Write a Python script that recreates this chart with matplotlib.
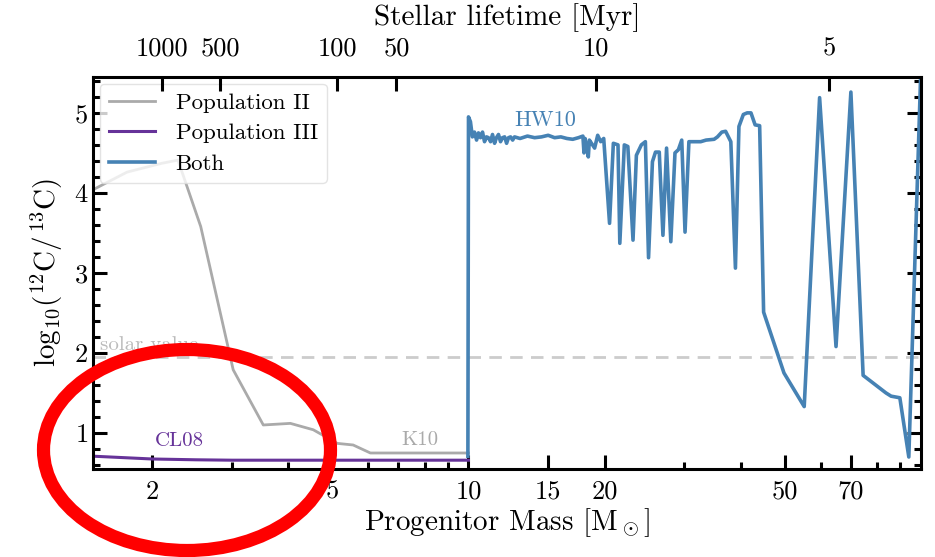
import matplotlib
matplotlib.use("Agg")
import matplotlib.pyplot as plt
from matplotlib.patches import Ellipse
from matplotlib.transforms import IdentityTransform
from matplotlib.ticker import FixedLocator, NullFormatter, NullLocator

plt.rcParams['font.family'] = 'serif'
plt.rcParams['font.serif'] = ['cmr10', 'DejaVu Serif']
plt.rcParams['mathtext.fontset'] = 'cm'
plt.rcParams['axes.unicode_minus'] = False
plt.rcParams['axes.formatter.use_mathtext'] = True

# Population II (K10)
pop2_mass = [1.48, 1.76, 2.10, 2.28, 2.56, 3.02, 3.52, 4.04, 4.54, 5.13, 5.56, 6.07, 10.0]
pop2_val = [4.04, 4.26, 4.37, 4.41, 3.58, 1.79, 1.10, 1.12, 1.04, 0.87, 0.85, 0.75, 0.75]

# Population III (CL08)
pop3_mass = [1.48, 2.0, 2.5, 3.0, 4.0, 5.0, 10.0]
pop3_val = [0.71, 0.675, 0.665, 0.66, 0.66, 0.66, 0.66]

# Both (HW10)
both_mass = [9.97, 10.0, 10.1, 10.2, 10.31, 10.42, 10.52, 10.63, 10.74, 10.85, 10.96, 11.07,
             11.19, 11.3, 11.42, 11.53, 11.65, 11.77, 11.89, 12.02, 12.14, 12.26, 12.39,
             12.52, 12.64, 13.0, 13.5, 14.0, 14.5, 15.0, 15.5, 16.0, 16.5, 17.0, 17.5,
             17.9, 18.0, 18.1, 18.25, 18.4, 18.5, 18.7, 19.0, 19.3, 19.6, 19.9,
             20.5, 20.9, 21.4, 21.6, 22.1, 22.5, 23.1, 23.5, 24.1, 24.6, 25.0, 25.5, 25.9,
             26.4, 26.9, 27.4, 28.0, 28.6, 29.1, 29.6, 30.1, 30.7, 31.5, 32.6, 33.5, 34.9,
             35.5, 36.3, 37.0, 38.0, 38.9, 39.6, 40.5, 41.3, 42.1, 43.0, 44.0, 44.9,
             49.8, 55.2, 59.7, 64.9, 70.0, 74.5, 83.7, 85.9, 89.8, 94.0, 100.0]
both_val = [0.71, 4.95, 4.89, 4.70, 4.76, 4.66, 4.75, 4.69, 4.76, 4.64, 4.70, 4.69,
            4.64, 4.73, 4.62, 4.69, 4.73, 4.64, 4.69, 4.70, 4.62, 4.69, 4.70,
            4.66, 4.70, 4.68, 4.71, 4.69, 4.70, 4.72, 4.69, 4.70, 4.68, 4.67, 4.69,
            4.71, 4.50, 4.68, 4.56, 4.45, 4.66, 4.62, 4.56, 4.72, 4.64, 4.68,
            3.62, 4.62, 4.60, 3.37, 4.60, 4.58, 3.41, 4.47, 4.60, 4.64, 3.19, 4.39, 4.51,
            4.51, 3.47, 4.56, 3.39, 4.50, 4.54, 4.66, 3.51, 4.64, 4.64, 4.64, 4.66, 4.67,
            4.70, 4.76, 4.77, 4.64, 3.06, 4.83, 4.98, 5.00, 5.00, 4.85, 4.84, 2.51,
            1.75, 1.33, 5.19, 2.08, 5.26, 1.72, 1.50, 1.46, 1.44, 0.70, 5.6]

solar_val = 1.95

life_labels = ['1000', '500', '100', '50', '10', '5']
life_mass = [2.10, 2.83, 5.13, 6.93, 19.1, 62.6]

x_major = [2, 5, 10, 15, 20, 50, 70]
x_minor = [3, 4, 6, 7, 8, 9, 30, 40, 60, 80, 90]

c_pop2 = '#aaaaaa'
c_pop3 = '#663399'
c_both = '#4682b4'

fig = plt.figure(figsize=(9.35, 5.57), dpi=100)
ax = fig.add_axes([0.0995, 0.158, 0.8855, 0.704])

ax.axhline(solar_val, color='#cccccc', ls='--', lw=2.0, dashes=(4.5, 3), zorder=1)
ax.plot(pop2_mass, pop2_val, color=c_pop2, lw=2.0, label='Population II')
ax.plot(pop3_mass, pop3_val, color=c_pop3, lw=2.2, label='Population III')
ax.plot(both_mass, both_val, color=c_both, lw=2.6, label='Both')

ax.text(1.53, 2.04, 'solar value', color='#bbbbbb', fontsize=15)
ax.text(2.30, 0.84, 'CL08', color=c_pop3, fontsize=15, ha='center')
ax.text(7.83, 0.85, 'K10', color=c_pop2, fontsize=15, ha='center')
ax.text(14.8, 4.84, 'HW10', color=c_both, fontsize=16, ha='center')

ax.set_xscale('log')
ax.set_xlim(1.48, 100)
ax.set_ylim(0.55, 5.45)
ax.xaxis.set_major_locator(FixedLocator(x_major))
ax.xaxis.set_minor_locator(FixedLocator(x_minor))
ax.set_xticklabels([str(v) for v in x_major])
ax.xaxis.set_minor_formatter(NullFormatter())
ax.set_yticks([1, 2, 3, 4, 5])
ax.yaxis.set_minor_locator(FixedLocator([0.6 + 0.2 * i for i in range(25)]))

ax.tick_params(which='both', direction='in', right=True, top=False, width=2.2, labelsize=19)
ax.tick_params(which='major', length=10)
ax.tick_params(which='minor', length=5)
ax.tick_params(axis='x', which='major', pad=8)
for sp in ax.spines.values():
    sp.set_linewidth(2.2)

ax.set_xlabel(r'Progenitor Mass [$\mathrm{M}_\odot$]', fontsize=21, labelpad=2)
ax.set_ylabel(r'$\mathrm{log}_{10}(^{12}\mathrm{C}/^{13}\mathrm{C})$', fontsize=21, labelpad=6)

ax2 = ax.twiny()
ax2.set_xscale('log')
ax2.set_xlim(ax.get_xlim())
ax2.xaxis.set_major_locator(FixedLocator(life_mass))
ax2.set_xticklabels(life_labels)
ax2.xaxis.set_minor_locator(NullLocator())
ax2.tick_params(which='major', direction='in', length=10, width=2.2, labelsize=19, pad=12)
ax2.set_xlabel('Stellar lifetime [Myr]', fontsize=21, labelpad=8)

leg = ax.legend(loc='upper left', fontsize=16.5, frameon=True, fancybox=True,
                framealpha=0.8, edgecolor='#dddddd', handlelength=2.0,
                borderaxespad=0.3, handletextpad=0.9, labelspacing=0.45)

ring = Ellipse((187, 107), 287, 201, fill=False, edgecolor='red', lw=9.5,
               transform=IdentityTransform(), clip_on=False, zorder=10)
fig.patches.append(ring)

fig.savefig('out.png', dpi=100)
